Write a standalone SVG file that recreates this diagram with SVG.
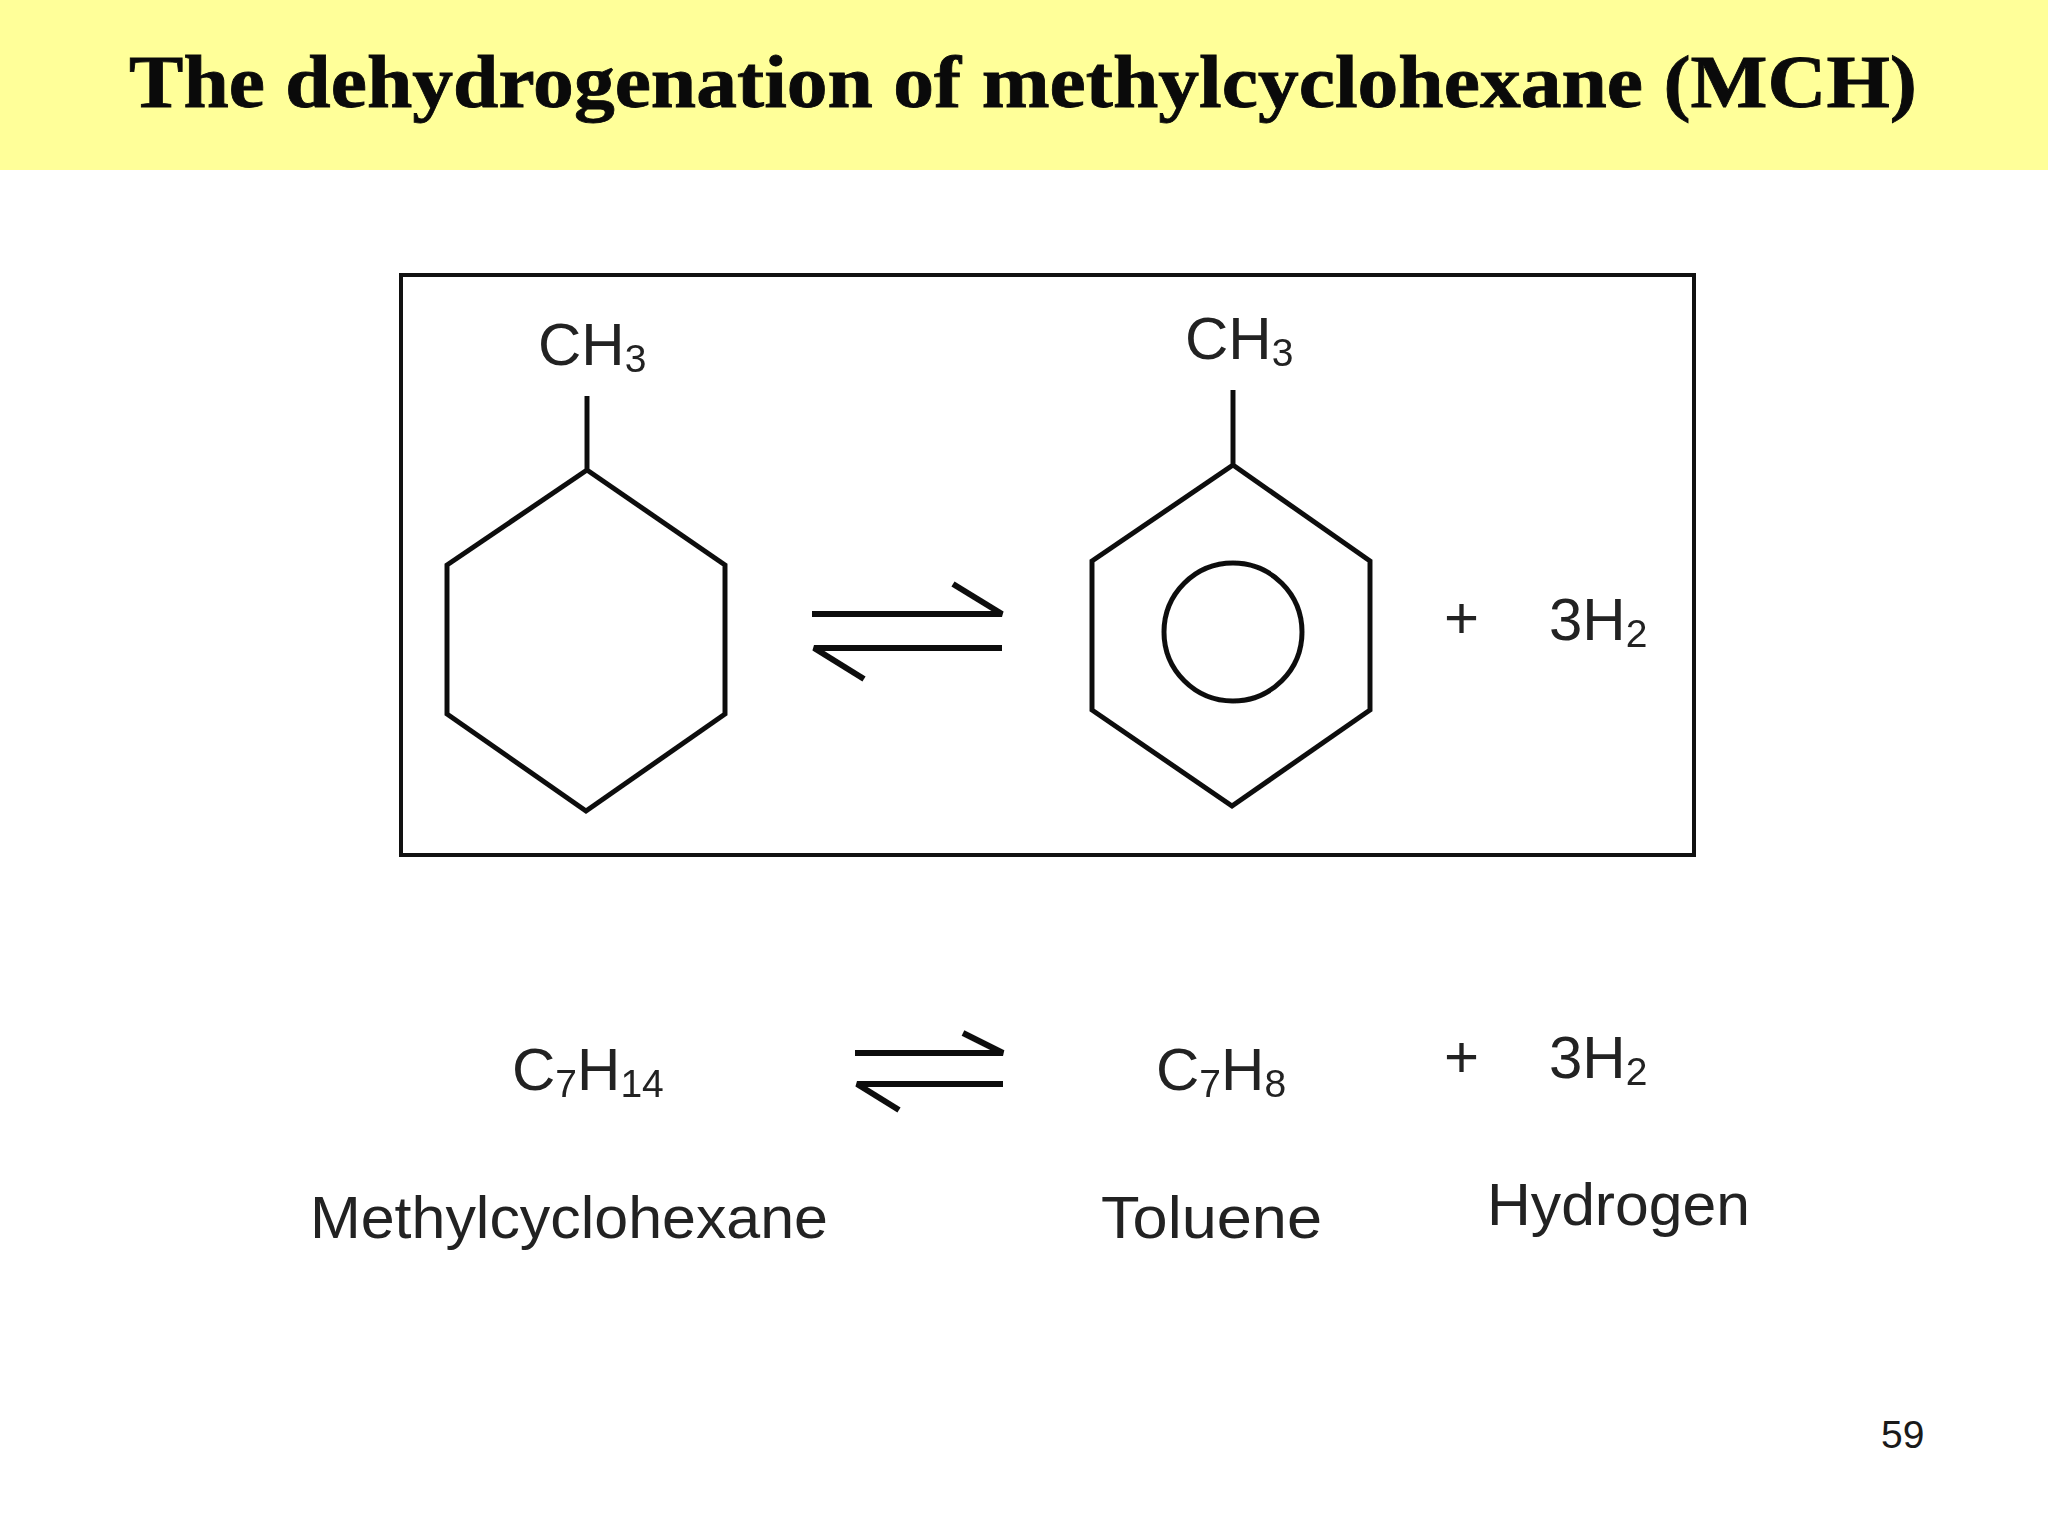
<svg xmlns="http://www.w3.org/2000/svg" width="2048" height="1536" viewBox="0 0 2048 1536">
<defs><filter id="soft" x="-5%" y="-5%" width="110%" height="110%"><feGaussianBlur stdDeviation="0.7"/></filter></defs>
<style>
.t{font-family:"Liberation Sans",Arial,sans-serif;font-size:60px;fill:#222}
.s{font-size:39px}
.b{fill:none;stroke:#111;stroke-width:5;stroke-linejoin:miter}
.a{fill:none;stroke:#111;stroke-width:6;stroke-linejoin:bevel}
.g{filter:url(#soft)}
</style>
<rect width="2048" height="1536" fill="#fff"/>
<g id="title">
<rect width="2048" height="170" fill="#ffff99"/>
<text x="129" y="107" font-family="'Liberation Serif','Times New Roman',serif" font-weight="700" font-size="75" fill="#0a0a0a" stroke="#0a0a0a" stroke-width="0.8" textLength="1788" lengthAdjust="spacingAndGlyphs">The dehydrogenation of methylcyclohexane (MCH)</text>
</g>
<g id="frame"><rect x="401" y="275" width="1293" height="580" fill="none" stroke="#111" stroke-width="4"/></g>
<g id="mch-structure" class="g">
<path class="b" d="M587 396V470M587 470L725 565V714L586 811L447 714V565Z"/>
<text class="t" x="538" y="365">CH<tspan class="s" dy="7">3</tspan></text>
</g>
<g id="toluene-structure" class="g">
<path class="b" d="M1233 390V465M1233 465L1370 561V710L1232 806L1092 710V561Z"/>
<circle class="b" cx="1233" cy="632" r="69"/>
<text class="t" x="1185" y="359">CH<tspan class="s" dy="7">3</tspan></text>
</g>
<g id="h2-top" class="g">
<text class="t" x="1444" y="638">+</text>
<text class="t" x="1549" y="640">3H<tspan class="s" dy="7">2</tspan></text>
</g>
<g id="connectors" class="g">
<path class="a" d="M812 614H1002L953 584M1002 648H814L864 679"/>
<path class="a" d="M855 1053H1003L963 1033M1003 1084H857L899 1110"/>
</g>
<g id="mch-formula" class="g">
<text class="t" x="512" y="1090">C<tspan class="s" dy="7">7</tspan><tspan dy="-7">H</tspan><tspan class="s" dy="7">14</tspan></text>
<text class="t" x="310" y="1238" textLength="518" lengthAdjust="spacingAndGlyphs">Methylcyclohexane</text>
</g>
<g id="toluene-formula" class="g">
<text class="t" x="1156" y="1090">C<tspan class="s" dy="7">7</tspan><tspan dy="-7">H</tspan><tspan class="s" dy="7">8</tspan></text>
<text class="t" x="1101" y="1238" textLength="221" lengthAdjust="spacingAndGlyphs">Toluene</text>
</g>
<g id="h2-formula" class="g">
<text class="t" x="1444" y="1077">+</text>
<text class="t" x="1549" y="1078">3H<tspan class="s" dy="7">2</tspan></text>
<text class="t" x="1487" y="1225" textLength="263" lengthAdjust="spacingAndGlyphs">Hydrogen</text>
</g>
<g id="page-number"><text x="1881" y="1448" font-family="'Liberation Sans',Arial,sans-serif" font-size="39" fill="#1a1a1a">59</text></g>
</svg>
